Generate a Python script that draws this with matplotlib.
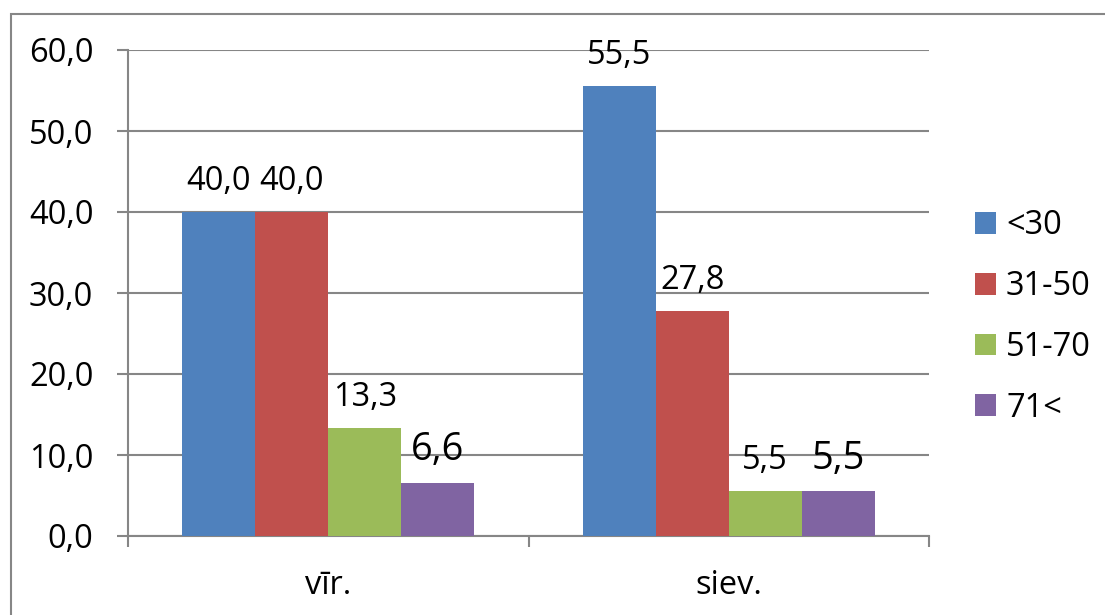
import matplotlib
matplotlib.use('Agg')
import matplotlib.pyplot as plt
import numpy as np
from matplotlib.patches import Rectangle

groups = ['vīr.', 'siev.']
ages = ['<30', '31-50', '51-70', '71<']
vir = [40.0, 40.0, 13.3, 6.6]
siev = [55.5, 27.8, 5.5, 5.5]
colors = ['#4F81BD', '#C0504D', '#9BBB59', '#8064A2']
# a few labels are drawn a bit bigger than the rest
big_labels = [(0, 3), (1, 3)]

plt.rcParams['font.family'] = ['Open Sans', 'DejaVu Sans']
fs = 23.5
grey = '#868686'


def main():
    fig = plt.figure(figsize=(11.05, 6.15), dpi=100)
    ax = fig.add_axes([128 / 1105, 79 / 615, 801 / 1105, 486 / 615])

    x = np.arange(len(groups))
    w = 0.1825
    values = np.array([vir, siev])
    for i, age in enumerate(ages):
        b = ax.bar(x + (i - 1.5) * w, values[:, i], w, color=colors[i], label=age, zorder=3)
        for j, rect in enumerate(b):
            size = fs * 1.17 if (j, i) in big_labels else fs
            ax.annotate(f'{values[j, i]:.1f}'.replace('.', ','),
                        (rect.get_x() + rect.get_width() / 2, rect.get_height()),
                        xytext=(0, 16), textcoords='offset points',
                        ha='center', va='baseline', fontsize=size, zorder=4)

    ax.set_xlim(-0.5, 1.5)
    ax.set_ylim(0, 60)
    ax.set_yticks(np.arange(0, 61, 10))
    ax.set_yticklabels([f'{v:.1f}'.replace('.', ',') for v in np.arange(0, 61, 10)])
    ax.set_xticks([-0.5, 0.5, 1.5])
    ax.set_xticklabels([])
    ax.set_xticks(x, minor=True)
    ax.set_xticklabels(groups, minor=True)

    ax.yaxis.grid(True, color=grey, linewidth=1.5, zorder=0)
    for s in ['top', 'right']:
        ax.spines[s].set_visible(False)
    for s in ['left', 'bottom']:
        ax.spines[s].set_color(grey)
        ax.spines[s].set_linewidth(1.5)
    ax.tick_params(axis='y', which='major', length=8, width=1.5, color=grey, pad=17, labelsize=fs)
    ax.tick_params(axis='x', which='major', length=8, width=1.5, color=grey)
    ax.tick_params(axis='x', which='minor', length=0, pad=24, labelsize=fs)

    ax.legend(loc='center left', bbox_to_anchor=(975 / 1105, (615 - 317) / 615),
              bbox_transform=fig.transFigure, frameon=False, fontsize=fs,
              handlelength=0.65, handleheight=0.65, handletextpad=0.3,
              labelspacing=0.85, borderpad=0, borderaxespad=0)

    # chart frame
    fig.patches.append(Rectangle((11 / 1105, -0.1), 1.2, (615 - 14) / 615 + 0.1,
                                 transform=fig.transFigure, fill=False,
                                 edgecolor=grey, linewidth=1.5))

    fig.savefig('out.png', dpi=100)
    plt.close(fig)


if __name__ == '__main__':
    main()
